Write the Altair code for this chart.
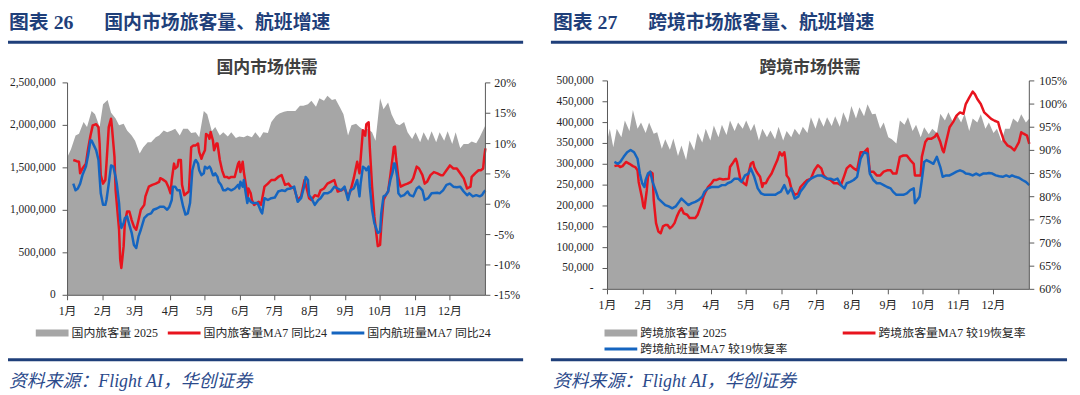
import altair as alt
import pandas as pd

# ---------------- data ----------------
MONTH_START = [0, 31, 59, 90, 120, 151, 181, 212, 243, 273, 304, 334]
MONTH_LABELS = ["1月", "2月", "3月", "4月", "5月", "6月", "7月", "8月", "9月", "10月", "11月", "12月"]

# Domestic passengers 2025 (persons), day index from Jan 1
DOM_PAX_DAY = [0, 3, 7, 10, 14, 17, 21, 24, 28, 31, 35, 38, 42, 45, 49, 52, 56, 59, 63, 66, 70, 73, 77, 80,
               84, 87, 91, 94, 98, 101, 105, 108, 112, 115, 119, 122, 126, 129, 133, 136, 140, 143, 147, 150,
               154, 157, 161, 164, 168, 171, 175, 178, 182, 185, 189, 192, 196, 199, 203, 206, 210, 213, 217,
               220, 224, 227, 231, 234, 238, 241, 245, 248, 252, 255, 259, 262, 266, 269, 273, 276, 280, 283,
               287, 290, 294, 297, 301, 304, 308, 311, 315, 318, 322, 325, 329, 332, 336, 339, 343, 346, 350,
               353, 357, 360, 365]
DOM_PAX = [1630000, 1720000, 1880000, 1900000, 2040000, 1980000, 2170000, 2130000, 1980000, 2250000, 2300000,
           2150000, 2080000, 2000000, 2020000, 1940000, 1880000, 1820000, 1670000, 1740000, 1800000, 1800000,
           1860000, 1880000, 1940000, 1920000, 1940000, 1960000, 1880000, 1960000, 1960000, 1910000, 1920000,
           1860000, 2170000, 2130000, 1930000, 1980000, 1880000, 1920000, 1870000, 1920000, 1850000, 1870000,
           1860000, 1880000, 1860000, 1920000, 1850000, 1920000, 1910000, 2040000, 2110000, 2140000, 2160000,
           2170000, 2170000, 2170000, 2230000, 2230000, 2250000, 2290000, 2220000, 2320000, 2290000, 2350000,
           2300000, 2310000, 2210000, 2130000, 1880000, 2000000, 2020000, 1980000, 1940000, 1960000, 1920000,
           1820000, 2320000, 2190000, 2270000, 2130000, 2020000, 2000000, 2040000, 1920000, 1840000, 1920000,
           1800000, 1920000, 1820000, 1930000, 1800000, 1920000, 1820000, 1930000, 1780000, 1920000, 1730000,
           1780000, 1780000, 1810000, 1790000, 1860000, 2000000]

# Domestic passengers MA7 YoY vs 2024 (%)
DOM_PAX_YOY_DAY = [5, 8, 10, 11, 13, 16, 18, 20, 22, 25, 27, 28, 29, 31, 33, 34, 36, 38, 39, 41, 42, 45, 46, 47,
                   49, 50, 52, 54, 56, 58, 60, 62, 64, 67, 68, 71, 74, 77, 80, 81, 83, 86, 88, 90, 91, 93, 94, 96,
                   97, 99, 100, 102, 104, 106, 108, 110, 112, 114, 115, 117, 118, 120, 121, 123, 124, 125, 127,
                   128, 130, 131, 133, 135, 137, 139, 141, 143, 146, 149, 150, 151, 153, 154, 156, 157, 158, 160,
                   161, 163, 167, 169, 172, 175, 178, 181, 184, 187, 190, 193, 195, 198, 201, 204, 207, 210, 211,
                   213, 216, 219, 221, 224, 227, 230, 233, 236, 239, 242, 245, 247, 250, 253, 255, 258, 260, 261,
                   263, 264, 266, 268, 270, 271, 273, 274, 276, 278, 280, 282, 284, 285, 286, 287, 289, 291, 294,
                   297, 300, 302, 305, 307, 310, 312, 314, 317, 320, 323, 326, 328, 331, 334, 337, 340, 343, 346,
                   349, 352, 353, 356, 359, 361, 363, 364, 365]
DOM_PAX_YOY = [7.3, 7.1, 7.0, 5.1, 5.9, 6.7, 9.2, 11.3, 13.0, 13.2, 12.7, 10.0, 4.8, 3.4, 4.0, 6.7, 12.7, 14.1,
               12.2, 7.8, 2.3, -4.2, -9.1, -10.5, -6.9, -3.1, -1.2, -1.2, -2.6, -3.7, -4.2, -2.6, -0.9, -0.1, 1.3,
               2.9, 3.2, 3.4, 3.7, 4.3, 4.1, 3.7, 2.9, 1.8, 4.0, 6.7, 5.9, 6.2, 7.3, 7.3, 3.2, 1.5, 1.8, 2.1, 9.4,
               9.7, 9.7, 10.0, 8.6, 7.5, 8.1, 8.9, 11.6, 11.3, 10.8, 11.9, 10.5, 8.9, 10.0, 10.0, 7.3, 5.6, 4.5,
               4.5, 4.3, 4.5, 4.5, 6.7, 7.0, 5.3, 7.0, 5.3, 2.9, 0.7, 2.6, 1.8, 0.7, -0.1, 0.4, -0.1, 2.9, 3.4, 4.0,
               4.0, 4.5, 4.8, 3.2, 3.4, 2.9, 2.6, 0.7, 1.3, 4.0, 1.8, 1.0, 0.7, 1.5, 1.3, 2.3, 2.6, 3.4, 3.7, 4.0,
               2.1, 2.3, 2.6, 1.3, 2.1, 4.3, 7.0, 5.1, 12.2, 11.3, 13.2, 13.5, 9.4, 2.9, -2.0, -5.3, -6.9, -6.7,
               -3.7, 0.7, 1.5, 2.1, 4.8, 7.8, 9.4, 9.5, 7.5, 4.3, 2.9, 3.2, 3.4, 3.7, 4.3, 6.2, 5.9, 4.8, 3.4, 3.7,
               4.8, 5.3, 5.1, 4.8, 4.8, 5.6, 6.4, 5.9, 5.9, 5.1, 4.3, 2.6, 2.9, 4.5, 5.1, 5.6, 5.6, 5.9, 7.8, 9.2]

# Domestic flights MA7 YoY vs 2024 (%)
DOM_FLT_YOY_DAY = [5, 7, 9, 11, 13, 16, 18, 20, 21, 23, 25, 27, 28, 29, 31, 33, 34, 36, 38, 40, 42, 43, 45, 46,
                   47, 49, 50, 52, 54, 56, 58, 60, 62, 64, 67, 70, 73, 75, 78, 81, 84, 87, 89, 91, 92, 94, 96, 98,
                   99, 101, 103, 105, 107, 109, 111, 112, 114, 115, 117, 119, 120, 122, 124, 125, 127, 128, 129,
                   131, 132, 134, 136, 138, 140, 143, 146, 149, 150, 151, 153, 154, 155, 157, 158, 160, 162, 164,
                   166, 169, 170, 172, 175, 178, 181, 184, 187, 190, 192, 195, 198, 201, 204, 207, 208, 210, 211,
                   213, 216, 219, 221, 224, 227, 230, 233, 236, 239, 242, 245, 247, 250, 253, 255, 256, 258, 260,
                   261, 263, 264, 266, 268, 270, 271, 273, 274, 276, 278, 280, 282, 284, 285, 286, 288, 289, 291,
                   294, 297, 299, 302, 305, 307, 310, 312, 315, 318, 323, 325, 328, 331, 334, 337, 340, 343, 346,
                   349, 351, 354, 357, 360, 362, 364, 365]
DOM_FLT_YOY = [3.4, 2.3, 2.6, 3.4, 4.8, 6.2, 8.1, 10.5, 10.5, 9.7, 8.9, 7.3, 4.5, 1.8, -0.1, -0.1, 0.7, 3.4, 6.4,
               6.2, 4.5, 3.4, 0.2, -2.6, -3.9, -3.1, -2.3, -2.0, -3.4, -4.7, -6.7, -7.2, -5.3, -4.2, -2.3, -1.7,
               -1.5, -0.9, -0.7, -0.4, -0.4, -0.9, -0.4, 0.7, 2.9, 2.9, 2.3, 2.3, 1.3, -0.4, -1.7, -1.5, 0.2, 5.6,
               7.0, 7.3, 6.7, 5.6, 4.8, 5.1, 6.2, 5.9, 6.2, 5.9, 4.8, 4.8, 5.1, 4.5, 3.7, 3.2, 2.3, 2.3, 2.6, 2.3,
               2.6, 3.2, 2.6, 3.7, 2.9, 4.0, 2.6, 0.2, 1.0, 0.4, 0.2, 0.2, 0.2, -1.2, -1.5, 1.0, 0.7, 1.0, 1.1, 2.1,
               2.3, 2.2, 2.5, 2.6, 2.9, 0.4, 1.0, 3.2, 4.5, 4.0, 1.5, 1.0, -0.1, 0.7, 1.0, 1.8, 1.8, 2.1, 2.9, 2.6,
               2.3, 2.9, 0.7, 2.3, 2.6, 4.0, 1.3, 3.4, 6.2, 5.9, 5.6, 6.2, 2.9, -0.9, -3.1, -4.2, -4.7, -4.5, -1.5,
               1.3, 1.5, 2.1, 4.0, 5.3, 6.7, 6.7, 4.5, 1.8, 1.3, 1.5, 2.1, 1.5, 1.3, 2.6, 2.9, 2.3, 0.7, 1.0, 1.8,
               1.9, 1.8, 2.3, 3.2, 3.4, 2.9, 2.8, 2.9, 2.1, 1.5, 1.8, 1.3, 1.5, 1.3, 1.5, 2.1, 2.3]

# Cross-border passengers 2025 (persons)
INT_PAX_DAY = [0, 2, 5, 8, 12, 15, 19, 22, 26, 29, 33, 36, 40, 43, 47, 50, 54, 57, 61, 64, 68, 71, 75, 78, 82,
               85, 89, 92, 96, 99, 103, 106, 110, 113, 117, 120, 124, 127, 131, 134, 138, 141, 145, 148, 152, 155,
               159, 162, 166, 169, 173, 176, 180, 183, 187, 190, 194, 197, 201, 204, 208, 211, 215, 218, 222, 225,
               229, 232, 236, 239, 243, 246, 250, 253, 257, 260, 264, 267, 271, 274, 278, 281, 285, 288, 292, 295,
               299, 302, 306, 309, 313, 316, 320, 323, 327, 330, 334, 337, 341, 344, 348, 351, 355, 358, 362, 365]
INT_PAX = [360000, 385000, 341000, 385000, 365000, 405000, 380000, 430000, 385000, 400000, 375000, 400000,
           373000, 377000, 337000, 360000, 335000, 362000, 320000, 345000, 310000, 357000, 333000, 375000,
           352000, 385000, 357000, 393000, 365000, 395000, 370000, 405000, 380000, 400000, 385000, 405000,
           380000, 397000, 357000, 385000, 365000, 381000, 360000, 390000, 357000, 380000, 365000, 385000,
           370000, 390000, 375000, 413000, 385000, 413000, 390000, 413000, 392000, 415000, 390000, 425000,
           400000, 440000, 410000, 437000, 415000, 444000, 420000, 421000, 385000, 400000, 365000, 360000,
           350000, 405000, 395000, 413000, 380000, 395000, 365000, 389000, 372000, 385000, 375000, 421000,
           405000, 425000, 400000, 420000, 400000, 421000, 380000, 410000, 400000, 420000, 385000, 400000,
           375000, 385000, 355000, 385000, 385000, 410000, 400000, 420000, 400000, 410000]

# Cross-border passengers MA7 recovery vs 2019 (%)
INT_PAX_REC_DAY = [6, 9, 11, 13, 16, 19, 22, 24, 26, 27, 30, 31, 32, 34, 35, 37, 39, 40, 42, 44, 46, 48, 50, 52,
                   54, 56, 58, 60, 62, 64, 66, 69, 71, 73, 76, 78, 79, 82, 83, 85, 87, 90, 92, 94, 97, 100, 103,
                   105, 106, 108, 110, 111, 112, 114, 115, 118, 120, 122, 124, 126, 127, 129, 130, 132, 134, 135,
                   137, 139, 142, 145, 147, 149, 151, 153, 154, 155, 157, 159, 162, 165, 167, 170, 173, 176, 179,
                   182, 185, 187, 190, 193, 196, 199, 202, 205, 207, 210, 213, 216, 219, 222, 225, 227, 230, 233,
                   236, 239, 242, 245, 247, 250, 253, 256, 259, 262, 265, 266, 269, 271, 272, 275, 277, 280, 283,
                   285, 288, 290, 291, 293, 296, 299, 302, 305, 308, 310, 313, 316, 318, 320, 323, 326, 329, 332,
                   335, 338, 340, 343, 346, 349, 352, 353, 356, 358, 360, 363, 365]
INT_PAX_REC = [86.6, 86.8, 86.4, 86.6, 87.5, 87.1, 86.6, 86.4, 85.7, 83.2, 79.6, 77.9, 77.5, 81.4, 84.3, 85.4,
               85.0, 79.3, 74.3, 72.5, 72.1, 73.6, 73.9, 73.9, 73.2, 73.6, 74.3, 75.7, 76.8, 77.5, 76.4, 76.1,
               75.4, 75.4, 75.4, 76.1, 76.8, 78.9, 80.0, 81.1, 82.1, 82.9, 83.6, 83.6, 83.9, 83.7, 83.8, 83.9,
               86.4, 87.1, 87.9, 88.2, 87.5, 85.0, 83.6, 82.9, 82.5, 85.0, 87.1, 87.5, 86.4, 85.4, 85.0, 84.3,
               82.1, 82.9, 82.9, 83.9, 85.0, 86.8, 87.9, 89.6, 88.9, 89.6, 87.9, 84.6, 83.9, 81.8, 80.4, 80.7,
               82.1, 82.9, 83.6, 83.9, 85.7, 86.8, 86.1, 84.6, 83.9, 83.6, 82.9, 82.9, 82.5, 84.6, 86.1, 86.8,
               86.1, 85.7, 89.6, 89.6, 90.4, 85.4, 85.4, 84.6, 84.6, 85.4, 85.7, 85.7, 85.0, 85.0, 88.6, 88.9,
               88.9, 87.9, 87.1, 84.6, 84.6, 84.6, 88.6, 91.8, 92.5, 92.5, 92.9, 93.6, 91.8, 90.0, 89.6, 91.8,
               95.0, 96.1, 97.5, 98.2, 97.9, 100.0, 101.4, 102.7, 102.1, 101.1, 100.0, 98.2, 97.5, 96.8, 96.4,
               96.1, 94.3, 92.1, 91.1, 90.7, 90.0, 90.4, 91.8, 93.9, 93.6, 93.2, 91.4]

# Cross-border flights MA7 recovery vs 2019 (%)
INT_FLT_REC_DAY = [6, 9, 11, 14, 17, 20, 23, 26, 28, 30, 32, 33, 35, 37, 39, 42, 44, 47, 50, 53, 56, 59, 62, 64,
                   67, 70, 73, 76, 79, 82, 84, 87, 90, 93, 96, 99, 102, 104, 107, 110, 113, 116, 119, 122, 124,
                   127, 130, 133, 136, 139, 142, 145, 147, 150, 153, 156, 159, 162, 165, 167, 170, 173, 176, 179,
                   182, 185, 187, 190, 193, 196, 199, 202, 205, 207, 210, 213, 216, 219, 222, 225, 227, 230, 233,
                   236, 239, 242, 245, 247, 250, 253, 256, 259, 262, 265, 266, 267, 270, 272, 274, 276, 279, 282,
                   285, 288, 290, 293, 296, 299, 302, 305, 308, 310, 313, 316, 319, 322, 325, 328, 330, 333, 336,
                   339, 342, 345, 348, 350, 353, 356, 359, 362, 365]
INT_FLT_REC = [87.5, 87.1, 87.5, 88.6, 89.6, 90.1, 89.6, 88.2, 85.0, 82.9, 82.1, 83.6, 85.0, 85.4, 83.2, 81.1,
               79.6, 78.9, 78.2, 77.9, 77.5, 77.9, 78.9, 79.6, 78.9, 78.2, 78.6, 78.9, 79.3, 80.0, 81.1, 81.8,
               82.1, 82.1, 82.1, 82.5, 82.5, 82.9, 83.2, 83.9, 83.9, 83.2, 84.6, 85.0, 86.1, 84.3, 81.8, 80.7,
               80.4, 80.4, 80.4, 80.4, 80.7, 81.1, 82.5, 80.7, 81.8, 79.6, 80.0, 81.1, 82.1, 83.2, 83.9, 84.3,
               84.6, 84.6, 84.3, 83.9, 83.9, 83.6, 83.9, 82.5, 81.8, 82.9, 83.2, 83.6, 84.3, 88.2, 89.6, 89.3,
               85.0, 83.6, 82.9, 82.9, 82.5, 82.1, 81.8, 81.1, 80.4, 80.4, 80.4, 80.7, 81.4, 81.8, 78.6, 78.9,
               80.0, 83.6, 87.5, 87.9, 87.5, 87.1, 88.6, 86.4, 84.3, 84.6, 84.6, 85.0, 85.4, 85.7, 85.4, 85.0,
               84.9, 84.6, 85.0, 84.6, 85.0, 85.0, 85.1, 85.0, 84.6, 84.4, 84.3, 84.6, 84.3, 84.6, 84.3, 84.1,
               83.6, 83.2, 82.5]

DOM_LEFT_TICKS = [0, 500000, 1000000, 1500000, 2000000, 2500000]
DOM_LEFT_LABELS = ["0", "500,000", "1,000,000", "1,500,000", "2,000,000", "2,500,000"]
DOM_RIGHT_TICKS = [-15, -10, -5, 0, 5, 10, 15, 20]
DOM_RIGHT_LABELS = ["-15%", "-10%", "-5%", "0%", "5%", "10%", "15%", "20%"]
INT_LEFT_TICKS = [0, 50000, 100000, 150000, 200000, 250000, 300000, 350000, 400000, 450000, 500000]
INT_LEFT_LABELS = ["-", "50,000", "100,000", "150,000", "200,000", "250,000", "300,000", "350,000",
                   "400,000", "450,000", "500,000"]
INT_RIGHT_TICKS = [60, 65, 70, 75, 80, 85, 90, 95, 100, 105]
INT_RIGHT_LABELS = ["60%", "65%", "70%", "75%", "80%", "85%", "90%", "95%", "100%", "105%"]

# ---------------- styling ----------------
GREY = "#A6A6A6"
RED = "#E8141E"
BLUE = "#1565C0"
AXIS = "#595959"
TXT = "#262626"
NAVY = "#1F3F7A"
SRC = "#2B4A8B"
SERIF = "Liberation Serif, Noto Sans CJK SC"
CJK = "Noto Sans CJK SC"

one = pd.DataFrame({"k": [0]})


def xscale(p):
    return alt.Scale(domain=[0, 365], range=[p["x0"], p["x1"]], nice=False, zero=False)


def yscale(dom, p):
    return alt.Scale(domain=dom, range=[p["yb"], p["yt"]], nice=False, zero=False)


def txt(s, x, y, **kw):
    base = dict(font=SERIF, fontSize=12, color=TXT, align="left", baseline="middle")
    base.update(kw)
    return alt.Chart(one).mark_text(text=s, **base).encode(x=alt.value(x), y=alt.value(y))


def rule(x, x2, y, y2, color=AXIS, w=1.0):
    return alt.Chart(one).mark_rule(color=color, strokeWidth=w).encode(
        x=alt.value(x), x2=alt.value(x2), y=alt.value(y), y2=alt.value(y2))


def panel(p):
    L = []
    xs = xscale(p)
    ys1 = yscale(p["dom1"], p)
    ys2 = yscale(p["dom2"], p)
    # grey area
    L.append(alt.Chart(pd.DataFrame({"day": p["area_day"], "v": p["area"]})).mark_area(
        color=GREY, opacity=1).encode(
        x=alt.X("day:Q", scale=xs, axis=None), y=alt.Y("v:Q", scale=ys1, axis=None)))
    # lines
    for d, v, c in [(p["red_day"], p["red"], RED), (p["blue_day"], p["blue"], BLUE)]:
        L.append(alt.Chart(pd.DataFrame({"day": d, "v": v})).mark_line(
            color=c, strokeWidth=2.5, strokeJoin="round").encode(
            x=alt.X("day:Q", scale=xs, axis=None), y=alt.Y("v:Q", scale=ys2, axis=None)))
    # axis lines
    L.append(rule(p["x0"], p["x0"], p["yt"], p["yb"]))
    L.append(rule(p["x1"], p["x1"], p["yt"], p["yb"]))
    L.append(rule(p["x0"], p["x1"], p["yb"], p["yb"]))
    # left ticks + labels
    lt = pd.DataFrame({"v": p["lt"], "lab": p["ll"]})
    L.append(alt.Chart(lt).mark_rule(color=AXIS).encode(
        y=alt.Y("v:Q", scale=ys1, axis=None), x=alt.value(p["x0"] - 5), x2=alt.value(p["x0"])))
    L.append(alt.Chart(lt).mark_text(font=SERIF, fontSize=11.5, color=TXT, align="right", baseline="middle").encode(
        y=alt.Y("v:Q", scale=ys1, axis=None), x=alt.value(p["llx"]), text="lab:N"))
    # right ticks + labels
    rt = pd.DataFrame({"v": p["rt"], "lab": p["rl"]})
    L.append(alt.Chart(rt).mark_rule(color=AXIS).encode(
        y=alt.Y("v:Q", scale=ys2, axis=None), x=alt.value(p["x1"]), x2=alt.value(p["x1"] + 5)))
    L.append(alt.Chart(rt).mark_text(font=SERIF, fontSize=12, color=TXT, align="left", baseline="middle").encode(
        y=alt.Y("v:Q", scale=ys2, axis=None), x=alt.value(p["rlx"]), text="lab:N"))
    # month ticks + labels
    mt = pd.DataFrame({"day": MONTH_START, "lab": MONTH_LABELS})
    L.append(alt.Chart(mt).mark_rule(color=AXIS).encode(
        x=alt.X("day:Q", scale=xs, axis=None), y=alt.value(p["yb"]), y2=alt.value(p["yb"] + 5)))
    L.append(alt.Chart(mt).mark_text(font=SERIF, fontSize=12, color=TXT, align="center", baseline="middle").encode(
        x=alt.X("day:Q", scale=xs, axis=None), y=alt.value(p["mly"]), text="lab:N"))
    # chart title
    L.append(txt(p["ctitle"], p["ctx"], 59, font=CJK, fontSize=17, fontWeight="bold", color="#404040",
                 align="center"))
    # header
    L.append(txt(p["fig"], p["hx"], 14, fontSize=20, fontWeight="bold", color=NAVY))
    L.append(txt(p["htitle"], p["hx"] + 96, 14, font=CJK, fontSize=19, fontWeight="bold", color=NAVY))
    L.append(rule(p["rx0"], p["rx1"], 33, 33, color=NAVY, w=3))
    L.append(rule(p["rx0"], p["rx1"], 353, 353, color=NAVY, w=3))
    L.append(txt("资料来源：Flight AI，华创证券", p["hx"], 375, fontSize=18, fontStyle="italic", color=SRC))
    # legend
    for item in p["legend"]:
        kind, x, y, label = item
        if kind == "box":
            L.append(alt.Chart(one).mark_rect(color=GREY).encode(
                x=alt.value(x), x2=alt.value(x + 33), y=alt.value(y - 3.5), y2=alt.value(y + 3.5)))
        else:
            L.append(rule(x, x + 33, y, y, color=kind, w=3))
        L.append(txt(label, x + 36, y, fontSize=12))
    return L


dom = dict(x0=60, x1=481, yt=74, yb=288, dom1=[0, 2500000], dom2=[-15, 20],
           area_day=DOM_PAX_DAY, area=DOM_PAX, red_day=DOM_PAX_YOY_DAY, red=DOM_PAX_YOY,
           blue_day=DOM_FLT_YOY_DAY, blue=DOM_FLT_YOY,
           lt=DOM_LEFT_TICKS, ll=DOM_LEFT_LABELS, llx=48, rt=DOM_RIGHT_TICKS, rl=DOM_RIGHT_LABELS, rlx=490,
           mly=304, ctitle="国内市场供需", ctx=261, fig="图表 26", htitle="国内市场旅客量、航班增速",
           hx=1, rx0=0, rx1=519,
           legend=[("box", 28, 326, "国内旅客量 2025"), (RED, 161, 326, "国内旅客量MA7 同比24"),
                   (BLUE, 326, 326, "国内航班量MA7 同比24")])

intl = dict(x0=604, x1=1029, yt=72, yb=282, dom1=[0, 500000], dom2=[60, 105],
            area_day=INT_PAX_DAY, area=INT_PAX, red_day=INT_PAX_REC_DAY, red=INT_PAX_REC,
            blue_day=INT_FLT_REC_DAY, blue=INT_FLT_REC,
            lt=INT_LEFT_TICKS, ll=INT_LEFT_LABELS, llx=590, rt=INT_RIGHT_TICKS, rl=INT_RIGHT_LABELS, rlx=1039,
            mly=298, ctitle="跨境市场供需", ctx=808, fig="图表 27", htitle="跨境市场旅客量、航班增速",
            hx=549, rx0=547, rx1=1067,
            legend=[("box", 601, 326, "跨境旅客量 2025"), (RED, 841, 326, "跨境旅客量MA7 较19恢复率"),
                    (BLUE, 601, 342, "跨境航班量MA7 较19恢复率")])

layers = panel(dom) + panel(intl)

chart = alt.layer(*layers).resolve_scale(x="independent", y="independent").properties(
    width=1072, height=387, autosize=alt.AutoSizeParams(type="none"), padding=0, background="white"
).configure_view(strokeWidth=0)

chart.save("out.html", embed_options={"renderer": "svg", "actions": False})
